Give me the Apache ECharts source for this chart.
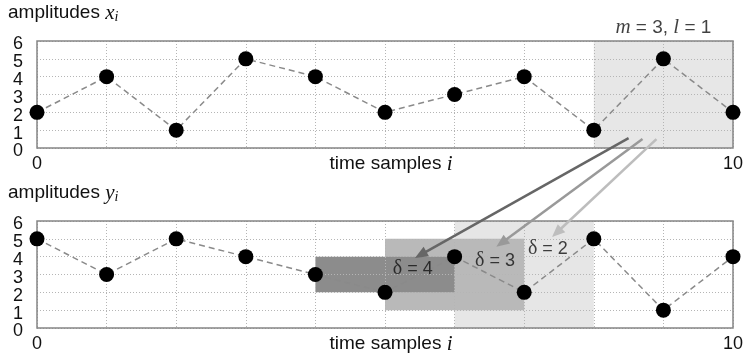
<!DOCTYPE html>
<html><head><meta charset="utf-8">
<script src="https://cdn.jsdelivr.net/npm/echarts@6/dist/echarts.min.js"></script>
<style>html,body{margin:0;padding:0;background:#fff}#c{width:747px;height:360px}</style>
</head><body><div id="c"></div>
<script>
// ---- data ----
const samples = [0,1,2,3,4,5,6,7,8,9,10];
const xValues = [2,4,1,5,4,2,3,4,1,5,2];
const yValues = [5,3,5,4,3,2,4,2,5,1,4];
const xTickShown = [0,10];
const windowFrom = [8,0];
const windowTo = [10,6];
const windowLabelPos = [9,6.75];
const deltas = [2,3,4];
const deltaBoxFrom = [[6,0],[5,1],[4,2]];
const deltaBoxTo = [[8,6],[7,5],[6,4]];
const deltaLabelPos = [[7.34,4.42],[6.58,3.76],[5.40,3.30]];
const arrowStart = [[8.9,0.5],[8.7,0.5],[8.5,0.55]];
const arrowEnd = [[7.40,5.10],[6.60,4.55],[5.43,3.93]];

// ---- styles ----
const boxColors = ['#e6e6e6','#b9b9b9','#8c8c8c'];
const arrowColors = ['#bdbdbd','#999999','#666666'];
const SANS = 'Liberation Sans, Arial, sans-serif';
const SERIF = 'Liberation Serif, Times New Roman, serif';

const richText = {
  a:{fontFamily:SANS,fontWeight:'normal',fontSize:19,color:'#111',lineHeight:22,verticalAlign:'middle'},
  v:{fontFamily:SERIF,fontWeight:'normal',fontStyle:'italic',fontSize:21,color:'#111',lineHeight:22,verticalAlign:'middle'},
  s:{fontFamily:SERIF,fontWeight:'normal',fontStyle:'italic',fontSize:14,color:'#111',lineHeight:13,verticalAlign:'bottom'},
  d:{fontFamily:SERIF,fontWeight:'normal',fontSize:20,color:'#111',lineHeight:22,verticalAlign:'middle'},
  b:{fontFamily:SANS,fontWeight:'normal',fontSize:18,color:'#111',lineHeight:22,verticalAlign:'middle'}
};

const chart = echarts.init(document.getElementById('c'), null, {renderer:'canvas'});

function xAxisFor(idx){
  return {
    gridIndex:idx, type:'value', min:0, max:10, interval:1, z:3,
    axisLine:{show:false}, axisTick:{show:false},
    splitLine:{show:true, lineStyle:{color:'#b5b5b5', type:[1,2], width:1}},
    axisLabel:{fontFamily:SANS, fontSize:18, color:'#111', margin:7, showMinLabel:true, showMaxLabel:true, hideOverlap:false,
      formatter:v => xTickShown.indexOf(v) >= 0 ? String(v) : ''},
    name:'{a|time samples }{v|i}', nameLocation:'middle', nameGap:5, nameMoveOverlap:false,
    nameTextStyle:{rich:richText, padding:[0,0,0,12]}
  };
}
function yAxisFor(idx){
  return {
    gridIndex:idx, type:'value', min:0, max:6, interval:1, z:3,
    axisLine:{show:false}, axisTick:{show:false},
    splitLine:{show:true, lineStyle:{color:'#b5b5b5', type:[1,2], width:1}},
    axisLabel:{fontFamily:SANS, fontSize:18, color:'#111', margin:14,
      verticalAlign:'top', lineHeight:7,
      showMinLabel:true, showMaxLabel:true, hideOverlap:false}
  };
}
function pts(vals){ return samples.map((s,k)=>[s,vals[k]]); }
function mainLine(idx, vals){
  return {type:'line', xAxisIndex:idx, yAxisIndex:idx, data:pts(vals), z:10,
    symbol:'circle', symbolSize:15, itemStyle:{color:'#000'},
    lineStyle:{color:'#8a8a8a', width:1.5, type:[6,4]}, silent:true, animation:false};
}
function shadeSeries(idx, vals, areas){
  return {type:'line', xAxisIndex:idx, yAxisIndex:idx, data:pts(vals), z:1,
    showSymbol:false, symbol:'none', lineStyle:{opacity:0}, silent:true, animation:false,
    markArea:{silent:true, animation:false, data:areas}};
}

const topAreas = [[{coord:windowFrom, itemStyle:{color:'#e7e7e7'}},{coord:windowTo}]];
const botAreas = deltas.map((d,k)=>[{coord:deltaBoxFrom[k], itemStyle:{color:boxColors[k]}},{coord:deltaBoxTo[k]}]);

const option = {
  animation:false,
  backgroundColor:'#fff',
  title:[
    {text:'{a|amplitudes }{v|x}{s|i}', left:3, top:-3, textStyle:{rich:richText}},
    {text:'{a|amplitudes }{v|y}{s|i}', left:3, top:177, textStyle:{rich:richText}}
  ],
  grid:[
    {left:37, right:14, top:41, height:107, show:true, z:4, backgroundColor:'transparent', borderColor:'#858585', borderWidth:1.5},
    {left:37, right:14, top:221, height:107, show:true, z:4, backgroundColor:'transparent', borderColor:'#858585', borderWidth:1.5}
  ],
  xAxis:[xAxisFor(0), xAxisFor(1)],
  yAxis:[yAxisFor(0), yAxisFor(1)],
  series:[
    shadeSeries(0, xValues, topAreas),
    shadeSeries(1, yValues, botAreas),
    mainLine(0, xValues),
    mainLine(1, yValues),
    {type:'scatter', xAxisIndex:0, yAxisIndex:0, clip:false, z:12, silent:true,
      symbolSize:1, itemStyle:{color:'rgba(0,0,0,0)'},
      data:[windowLabelPos],
      label:{show:true, position:'inside', formatter:'{v|m}{a| = 3, }{v|l}{a| = 1}', rich:richText}},
    {type:'scatter', xAxisIndex:1, yAxisIndex:1, clip:false, z:12, silent:true,
      symbolSize:1, itemStyle:{color:'rgba(0,0,0,0)'},
      data:deltaLabelPos.map((p,k)=>({value:p, name:String(deltas[k])})),
      label:{show:true, position:'inside', formatter:p=>'{d|δ}{b| = '+p.name+'}', rich:richText}}
  ]
};
chart.setOption(option);

// arrows from top window to bottom boxes, positioned through the axes' scales
const elements = [];
arrowStart.forEach((s,k)=>{
  const p0 = chart.convertToPixel({gridIndex:0}, s);
  const p1 = chart.convertToPixel({gridIndex:1}, arrowEnd[k]);
  const dx = p1[0]-p0[0], dy = p1[1]-p0[1];
  const L = Math.sqrt(dx*dx+dy*dy);
  const ux = dx/L, uy = dy/L, nx = -uy, ny = ux;
  const hl = 13, hw = 5.5;
  const bx = p1[0]-ux*hl, by = p1[1]-uy*hl;
  elements.push({type:'line', silent:true, z:100,
    shape:{x1:p0[0], y1:p0[1], x2:bx+ux*2, y2:by+uy*2},
    style:{stroke:arrowColors[k], lineWidth:2.5}});
  elements.push({type:'polygon', silent:true, z:100,
    shape:{points:[[p1[0],p1[1]],[bx+nx*hw,by+ny*hw],[bx-nx*hw,by-ny*hw]]},
    style:{fill:arrowColors[k]}});
});
chart.setOption({graphic:{elements:elements}});
</script>
</body></html>
